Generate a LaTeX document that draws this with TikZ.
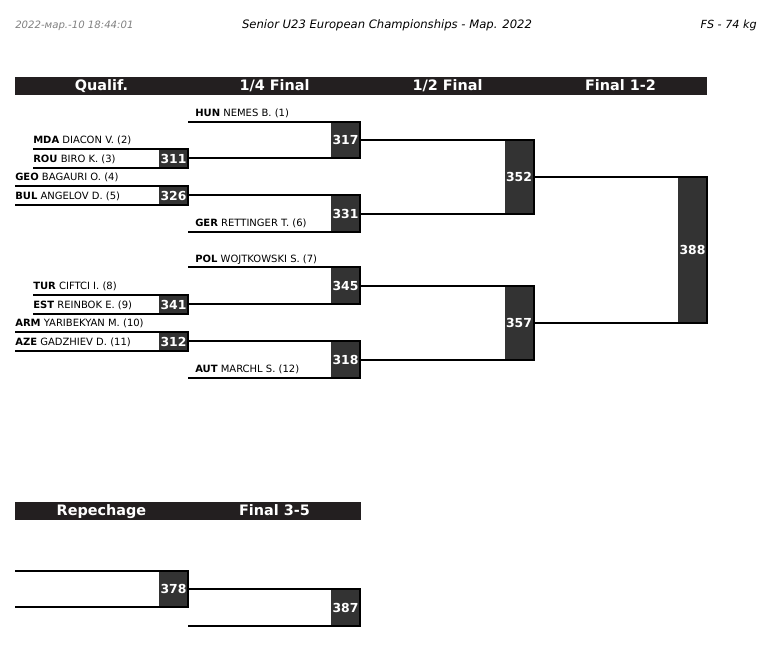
\documentclass[tikz,border=0pt]{standalone}
\usepackage{fontspec}
\setmainfont{DejaVu Sans}
\definecolor{barblack}{HTML}{231F20}
\definecolor{boxgray}{HTML}{333333}
\definecolor{stampgray}{HTML}{808080}

\begin{document}
\begin{tikzpicture}[x=0.75pt, y=-0.75pt,
    bracket/.style={line width=1.5pt},
    colhead/.style={anchor=base, inner sep=0pt, text=white, font=\fontsize{10.8}{12}\bfseries},
    athlete/.style={anchor=base west, inner sep=0pt, font=\fontsize{7.5}{9}\selectfont},
    bout/.style={rectangle, fill=boxgray, text=white, inner sep=0pt, outer sep=0pt, minimum width=21.75pt, font=\fontsize{9.3}{11}\bfseries}]

    \useasboundingbox (0,0) rectangle (769,666);

    % top line
    \node (stamp) [anchor=base west, inner sep=0pt, text=stampgray, font=\fontsize{7.6}{9}\itshape] at (15,29) {2022-мар.-10 18:44:01};
    \node (event) [anchor=base, inner sep=0pt, font=\fontsize{8.7}{10}\itshape] at (387,29) {Senior U23 European Championships - Мар. 2022};
    \node (weight) [anchor=base east, inner sep=0pt, font=\fontsize{8.4}{10}\itshape] at (757,29) {FS - 74 kg};

    % column headers
    \fill[barblack] (15,77) rectangle (707,95);
    \node (qualif) [colhead] at (101.5,91) {Qualif.};
    \node (quarter) [colhead] at (274.5,91) {1/4 Final};
    \node (semi) [colhead] at (447.5,91) {1/2 Final};
    \node (final) [colhead] at (620.5,91) {Final 1-2};

    % bouts
    \node (m311) [bout, minimum height=14.25pt] at (173.5,158.5) {311};
    \node (m326) [bout, minimum height=14.25pt] at (173.5,195.5) {326};
    \node (m341) [bout, minimum height=14.25pt] at (173.5,304.5) {341};
    \node (m312) [bout, minimum height=14.25pt] at (173.5,341.5) {312};
    \node (m317) [bout, minimum height=27.375pt] at (345.5,140.25) {317};
    \node (m331) [bout, minimum height=27.375pt] at (345.5,213.75) {331};
    \node (m345) [bout, minimum height=27.375pt] at (345.5,285.75) {345};
    \node (m318) [bout, minimum height=27.375pt] at (345.5,359.75) {318};
    \node (m352) [bout, minimum height=55.125pt] at (519,177) {352};
    \node (m357) [bout, minimum height=55.5pt] at (519,322.75) {357};
    \node (m388) [bout, minimum height=109.3pt] at (692.5,249.9) {388};

    % line starts
    \coordinate (hun) at (188,122);
    \coordinate (mda) at (33,149);
    \coordinate (rou) at (33,168);
    \coordinate (geo) at (15,186);
    \coordinate (bul) at (15,205);
    \coordinate (ger) at (188,232);
    \coordinate (pol) at (188,267.5);
    \coordinate (tur) at (33,295);
    \coordinate (est) at (33,314);
    \coordinate (arm) at (15,332);
    \coordinate (aze) at (15,351);
    \coordinate (aut) at (188,378);

    % athletes
    \node (hun-name) [athlete] at ([shift={(5.25pt,4pt)}]hun) {\textbf{HUN} NEMES B. (1)};
    \node (mda-name) [athlete] at ([yshift=4pt]mda) {\textbf{MDA} DIACON V. (2)};
    \node (rou-name) [athlete] at ([yshift=4pt]rou) {\textbf{ROU} BIRO K. (3)};
    \node (geo-name) [athlete] at ([yshift=4pt]geo) {\textbf{GEO} BAGAURI O. (4)};
    \node (bul-name) [athlete] at ([yshift=4pt]bul) {\textbf{BUL} ANGELOV D. (5)};
    \node (ger-name) [athlete] at ([shift={(5.25pt,4pt)}]ger) {\textbf{GER} RETTINGER T. (6)};
    \node (pol-name) [athlete] at ([shift={(5.25pt,4pt)}]pol) {\textbf{POL} WOJTKOWSKI S. (7)};
    \node (tur-name) [athlete] at ([yshift=4pt]tur) {\textbf{TUR} CIFTCI I. (8)};
    \node (est-name) [athlete] at ([yshift=4pt]est) {\textbf{EST} REINBOK E. (9)};
    \node (arm-name) [athlete] at ([yshift=4pt]arm) {\textbf{ARM} YARIBEKYAN M. (10)};
    \node (aze-name) [athlete] at ([yshift=4pt]aze) {\textbf{AZE} GADZHIEV D. (11)};
    \node (aut-name) [athlete] at ([shift={(5.25pt,4pt)}]aut) {\textbf{AUT} MARCHL S. (12)};

    % brackets
    \draw[bracket] (mda) -- (m311.north east) -- (m311.south east) -- (rou);
    \draw[bracket] (geo) -- (m326.north east) -- (m326.south east) -- (bul);
    \draw[bracket] (tur) -- (m341.north east) -- (m341.south east) -- (est);
    \draw[bracket] (arm) -- (m312.north east) -- (m312.south east) -- (aze);
    \draw[bracket] (hun) -- (m317.north east) -- (m317.south east) -- (m311.east |- m317.south east);
    \draw[bracket] (m326.east |- m331.north east) -- (m331.north east) -- (m331.south east) -- (ger);
    \draw[bracket] (pol) -- (m345.north east) -- (m345.south east) -- (m341.east |- m345.south east);
    \draw[bracket] (m312.east |- m318.north east) -- (m318.north east) -- (m318.south east) -- (aut);
    \draw[bracket] (m317.east |- m352.north east) -- (m352.north east) -- (m352.south east) -- (m331.east |- m352.south east);
    \draw[bracket] (m345.east |- m357.north east) -- (m357.north east) -- (m357.south east) -- (m318.east |- m357.south east);
    \draw[bracket] (m352.east |- m388.north east) -- (m388.north east) -- (m388.south east) -- (m357.east |- m388.south east);

    % repechage
    \fill[barblack] (15,502) rectangle (361,520);
    \node (repechage) [colhead] at (101.5,515.5) {Repechage};
    \node (bronze) [colhead] at (274.5,515.5) {Final 3-5};

    \node (m378) [bout, minimum height=27pt] at (173.5,589) {378};
    \node (m387) [bout, minimum height=27.75pt] at (345.5,607.5) {387};

    \coordinate (rep-a) at (15,571);
    \coordinate (rep-b) at (15,607);
    \coordinate (rep-c) at (188,626);

    \draw[bracket] (rep-a) -- (m378.north east) -- (m378.south east) -- (rep-b);
    \draw[bracket] (m378.east |- m387.north east) -- (m387.north east) -- (m387.south east) -- (rep-c);
\end{tikzpicture}
\end{document}
